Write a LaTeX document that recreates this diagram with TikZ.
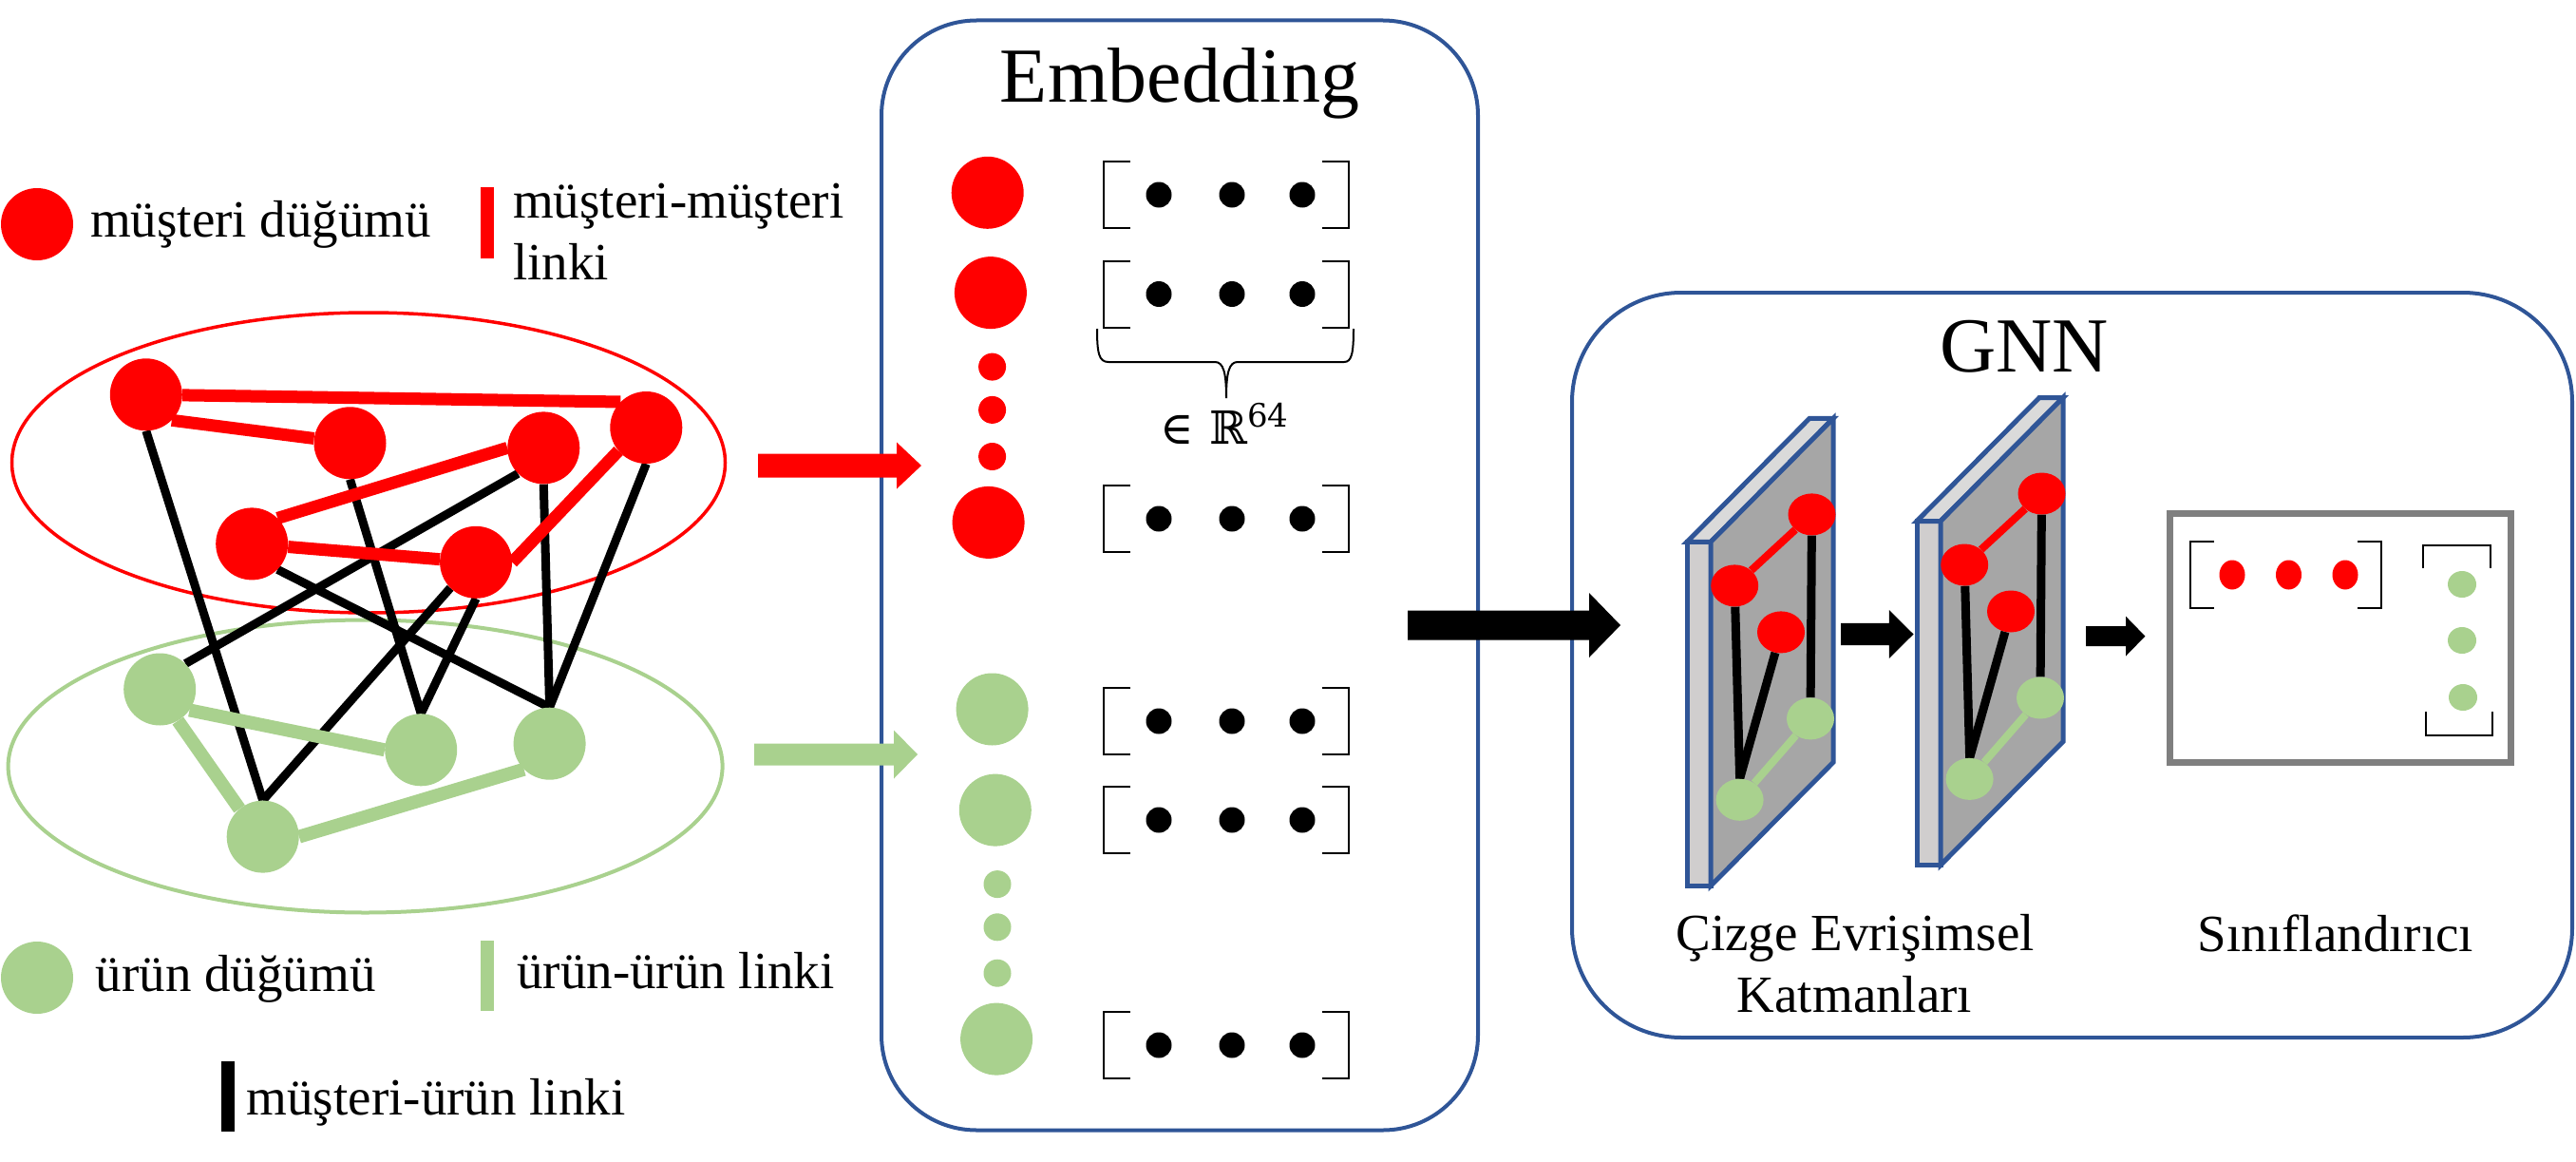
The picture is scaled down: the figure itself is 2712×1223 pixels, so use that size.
\documentclass[tikz,border=0pt]{standalone}
\usepackage{fontspec}
\setmainfont{Liberation Serif}
\newfontfamily\symfnt{DejaVu Serif}
\usetikzlibrary{shapes.geometric,backgrounds}
\definecolor{myred}{HTML}{FF0000}
\definecolor{mygreen}{HTML}{A9D18E}
\definecolor{myblue}{HTML}{2F5597}
\definecolor{facegray}{HTML}{A6A6A6}
\definecolor{sidegray}{HTML}{D0CECE}
\definecolor{topgray}{HTML}{DADADA}
\definecolor{boxgray}{HTML}{7F7F7F}
% #1 colour, #2 x start, #3 x tip, #4 y, #5 shaft, #6 head length, #7 head width
\newcommand{\myblockarrow}[7]{%
  \fill[#1] (#2,{#4-#5/2}) -- ({#3-#6},{#4-#5/2}) -- ({#3-#6},{#4-#7/2}) -- (#3,#4)
    -- ({#3-#6},{#4+#7/2}) -- ({#3-#6},{#4+#5/2}) -- (#2,{#4+#5/2}) -- cycle;}
\begin{document}
\begin{tikzpicture}[x=1pt,y=-1pt,
  rnode/.style={circle,fill=myred,inner sep=0pt,minimum size=76pt},
  gnode/.style={circle,fill=mygreen,inner sep=0pt,minimum size=76pt},
  rdot/.style={circle,fill=myred,inner sep=0pt,minimum size=29pt},
  gdot/.style={circle,fill=mygreen,inner sep=0pt,minimum size=29pt},
  rlink/.style={myred,line width=13pt},
  glink/.style={mygreen,line width=14pt},
  blink/.style={black,line width=9pt},
  lbl/.style={font=\fontsize{55}{65}\selectfont,inner sep=0pt,anchor=base west},
  ttl/.style={font=\fontsize{82}{90}\selectfont,inner sep=0pt,anchor=base},
  brk/.style={black,line width=2pt},
  lnode/.style={ellipse,inner sep=0pt,minimum width=50pt,minimum height=44pt},
  panelline/.style={draw=myblue,line width=5pt},
  vecrow/.pic={
    \draw[brk] (-101,-35) -- (-129,-35) -- (-129,35) -- (-101,35);
    \draw[brk] (101,-35) -- (129,-35) -- (129,35) -- (101,35);
    \fill (-71,0) circle[radius=13.5];
    \fill (6,0) circle[radius=13.5];
    \fill (80,0) circle[radius=13.5];
  }
]
\useasboundingbox (0,0) rectangle (2712,1223);

% ---------- legend ----------
\node[rnode] (legR) at (39,236) {};
\node[lbl] (legRt) at (95,249.5) {müşteri düğümü};
\fill[myred] (506,197) rectangle (519.5,272);
\node[lbl] (legRRa) at (540,229) {müşteri-müşteri};
\node[lbl] (legRRb) at (540,294.4) {linki};
\node[gnode] (legG) at (39,1029) {};
\node[lbl] (legGt) at (100.5,1043.7) {ürün düğümü};
\fill[mygreen] (506,990) rectangle (519.5,1064);
\node[lbl] (legGGt) at (544,1040.5) {ürün-ürün linki};
\fill[black] (232.5,1117) rectangle (246.8,1191);
\node[lbl] (legRGt) at (259.5,1173.7) {müşteri-ürün linki};

% ---------- input graph ----------
\node[rnode] (R1) at (153.8,415.3) {};
\node[rnode] (R2) at (368.5,466.3) {};
\node[rnode] (R3) at (572.3,471.4) {};
\node[rnode] (R4) at (680.3,450) {};
\node[rnode] (R5) at (265.2,572.4) {};
\node[rnode] (R6) at (501.1,591.8) {};
\node[gnode] (G1) at (168.2,725.5) {};
\node[gnode] (G2) at (443.2,789.3) {};
\node[gnode] (G3) at (578.6,782.7) {};
\node[gnode] (G4) at (276.7,880.6) {};

\begin{scope}[on background layer]
  \draw[myred,line width=3.5pt] (388,487) ellipse [x radius=375.5, y radius=158];
  \draw[mygreen,line width=4pt] (384.6,806.5) ellipse [x radius=376, y radius=154];
  \draw[blink] (R1.south) -- (G4.north);
  \draw[blink] (R6.-135) -- (G4.north);
  \draw[blink] (R2.south) -- (G2.north);
  \draw[blink] (R6.south) -- (G2.north);
  \draw[blink] (R3.-135) -- (G1.45);
  \draw[blink] (R3.south) -- (G3.north);
  \draw[blink] (R4.south) -- (G3.north);
  \draw[blink] (R5.-45) -- (G3.north);
  \draw[rlink] (R1) -- (R4.135);
  \draw[rlink] (R1.-45) -- (R2);
  \draw[rlink] (R5.45) -- (R3.west);
  \draw[rlink] (R5) -- (R6);
  \draw[rlink] (R6.east) -- (R4.-140);
  \draw[glink] (G1.-35) -- (G2.west);
  \draw[glink] (G1.-60) -- (G4.130);
  \draw[glink] (G4.east) -- (G3.-135);
\end{scope}

% ---------- embedding box ----------
\node[draw=myblue,line width=4pt,rounded corners=100pt,minimum width=628pt,
      minimum height=1168pt,inner sep=0pt] (emb) at (1242,605.5) {};
\node[ttl] (embt) at (1242,107) {Embedding};

\node[rnode] (ER1) at (1039.7,202.8) {};
\node[rnode] (ER2) at (1042.9,308.1) {};
\node[rdot] (ERd1) at (1044.6,386.1) {};
\node[rdot] (ERd2) at (1044.6,431.4) {};
\node[rdot] (ERd3) at (1044.6,480.5) {};
\node[rnode] (ER3) at (1040.6,549.9) {};
\node[gnode] (EG1) at (1044.6,746.5) {};
\node[gnode] (EG2) at (1047.8,852.6) {};
\node[gdot] (EGd1) at (1050,930.6) {};
\node[gdot] (EGd2) at (1050,975.8) {};
\node[gdot] (EGd3) at (1050,1024.2) {};
\node[gnode] (EG3) at (1049.1,1093.6) {};

\pic at (1291,205) {vecrow};
\pic at (1291,309.5) {vecrow};
\pic at (1291,546) {vecrow};
\pic at (1291,759) {vecrow};
\pic at (1291,863) {vecrow};
\pic at (1291,1100) {vecrow};

\draw[line width=2pt] (1155,346) .. controls (1155,372) and (1157,381) .. (1167,381)
  -- (1279,381) .. controls (1288,381) and (1291,392) .. (1291,419)
  .. controls (1291,392) and (1294,381) .. (1303,381)
  -- (1415,381) .. controls (1423,381) and (1425,372) .. (1425,346);
\node[inner sep=0pt,font=\fontsize{48}{54}\symfnt] (rdim) at (1289,446)
  {∈\hspace{16pt}ℝ\raisebox{18pt}{\fontsize{34}{36}\selectfont 64}};

% ---------- arrows into embedding ----------
\myblockarrow{myred}{798}{970}{490}{25}{26}{49}
\myblockarrow{mygreen}{794}{966}{794}{23}{25}{51}

% ---------- GNN box ----------
\node[draw=myblue,line width=4pt,rounded corners=115pt,minimum width=1053pt,
      minimum height=784pt,inner sep=0pt] (gnn) at (2181.5,700) {};
\node[ttl] (gnnt) at (2131,391) {GNN};

\foreach \i/\sx/\sy in {1/1776/570.4,2/2018/548.5}{
  \begin{scope}[shift={(\sx,\sy)}]
    \node[lnode,fill=myred] (a\i) at (131.5,-29) {};
    \node[lnode,fill=myred] (b\i) at (50.2,46) {};
    \node[lnode,fill=myred] (c\i) at (99,95) {};
    \node[lnode,fill=mygreen] (d\i) at (130,186) {};
    \node[lnode,fill=mygreen] (e\i) at (55.6,271.4) {};
    \begin{scope}[on background layer]
      \filldraw[panelline,fill=sidegray] (0,0) rectangle (25,362);
      \filldraw[panelline,fill=topgray] (0,0) -- (129,-130) -- (154,-130) -- (25,0) -- cycle;
      \filldraw[panelline,fill=facegray] (25,0) -- (154,-130) -- (154,232) -- (25,362) -- cycle;
      \draw[myred,line width=8pt] (a\i) -- (b\i);
      \draw[black,line width=9pt] (b\i) -- (e\i.north);
      \draw[black,line width=9pt] (c\i) -- (e\i.north);
      \draw[black,line width=9pt] (a\i) -- (d\i);
      \draw[mygreen,line width=8pt] (d\i) -- (e\i);
    \end{scope}
  \end{scope}
}

% ---------- classifier ----------
\node[draw=boxgray,line width=7pt,minimum width=359pt,minimum height=262pt,inner sep=0pt] (cls) at (2464.4,671.7) {};
\draw[brk] (2331,570) -- (2306,570) -- (2306,640) -- (2331,640);
\draw[brk] (2482,570) -- (2507,570) -- (2507,640) -- (2482,640);
\node[ellipse,fill=myred,inner sep=0pt,minimum width=27pt,minimum height=31pt] (cr1) at (2350,605) {};
\node[ellipse,fill=myred,inner sep=0pt,minimum width=27pt,minimum height=31pt] (cr2) at (2409.5,605) {};
\node[ellipse,fill=myred,inner sep=0pt,minimum width=27pt,minimum height=31pt] (cr3) at (2469,605) {};
\draw[brk] (2551,598) -- (2551,574) -- (2622,574) -- (2622,598);
\draw[brk] (2554,749) -- (2554,773.5) -- (2624,773.5) -- (2624,749);
\node[ellipse,fill=mygreen,inner sep=0pt,minimum width=30pt,minimum height=28pt] (cg1) at (2592,615) {};
\node[ellipse,fill=mygreen,inner sep=0pt,minimum width=30pt,minimum height=28pt] (cg2) at (2592,674) {};
\node[ellipse,fill=mygreen,inner sep=0pt,minimum width=30pt,minimum height=28pt] (cg3) at (2593,734) {};

% ---------- arrows ----------
\myblockarrow{black}{1482}{1706}{658}{31}{33}{68}
\myblockarrow{black}{1938}{2014.5}{667.5}{23.4}{25.7}{51}
\myblockarrow{black}{2196}{2258.4}{669.6}{21}{20.4}{41.8}

% ---------- captions ----------
\node[lbl,anchor=base] (cgta) at (1953,1000) {Çizge Evrişimsel};
\node[lbl,anchor=base] (cgtb) at (1952.5,1065.3) {Katmanları};
\node[lbl,anchor=base] (snt) at (2459,1001.5) {Sınıflandırıcı};
\end{tikzpicture}
\end{document}
